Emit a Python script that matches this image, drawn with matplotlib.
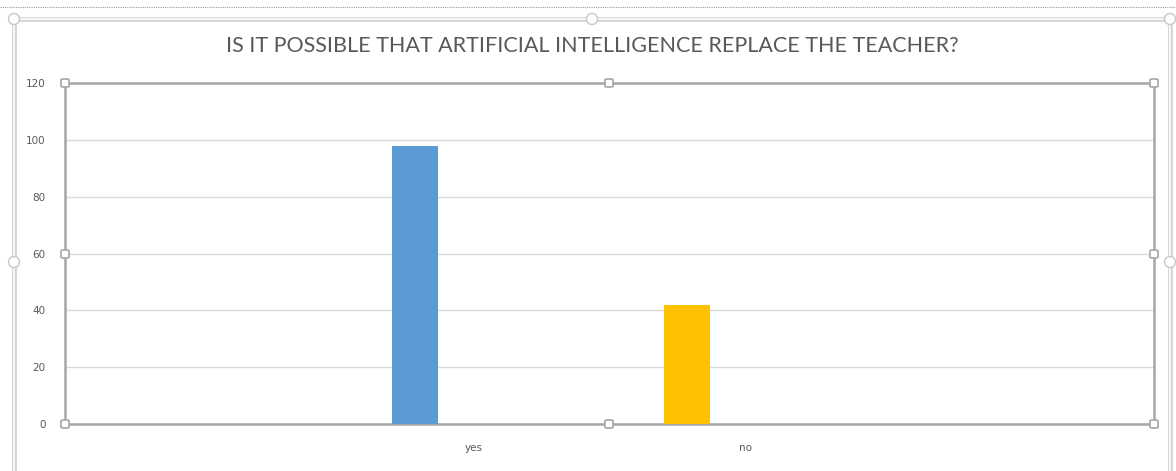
import matplotlib
matplotlib.use("Agg")
import matplotlib.pyplot as plt
from matplotlib.patches import Ellipse, FancyBboxPatch
from matplotlib.lines import Line2D

# Data
categories = ["", "yes", "no", ""]
values = [None, 98, 42, None]
bar_colors = [None, "#5b9bd5", "#ffc000", None]
title = "IS IT POSSIBLE THAT ARTIFICIAL INTELLIGENCE REPLACE THE TEACHER?"
yticks = [0, 20, 40, 60, 80, 100, 120]

W, H = 1176, 471
fig = plt.figure(figsize=(W / 100, H / 100), dpi=100)
fig.patch.set_facecolor("white")

def fx(px):
    return px / W

def fy(py):
    return 1 - py / H

# outer chart frame (selected)
fig.add_artist(Line2D([fx(0), fx(1176)], [fy(7), fy(7)], transform=fig.transFigure,
                      color="#9a9a9a", lw=0.8, ls=(0, (1, 1))))
for (x0, y0, x1, y1) in [(14, 19, 1170, 19), (14, 19, 14, 471), (1170, 19, 1170, 471)]:
    fig.add_artist(Line2D([fx(x0), fx(x1)], [fy(y0), fy(y1)], transform=fig.transFigure,
                          color="#d4d4d4", lw=3.5, solid_capstyle="butt"))
    fig.add_artist(Line2D([fx(x0), fx(x1)], [fy(y0), fy(y1)], transform=fig.transFigure,
                          color="white", lw=1.2, solid_capstyle="butt"))

ax = fig.add_axes([fx(65), fy(424), fx(1154) - fx(65), fy(83) - fy(424)])
ax.set_facecolor("white")

xs = list(range(len(categories)))
offset = -0.215
width = 0.168
for x, v, c in zip(xs, values, bar_colors):
    if v is not None:
        ax.bar(x + offset, v, width=width, color=c, zorder=3)

ax.set_xlim(-0.5, len(categories) - 0.5)
ax.set_ylim(0, 120)
ax.set_yticks(yticks)
ax.set_yticklabels([str(t) for t in yticks])
ax.set_xticks(xs)
ax.set_xticklabels(categories)
ax.tick_params(axis="both", length=0, labelsize=7.5, colors="#595959")
ax.tick_params(axis="y", pad=14)
ax.tick_params(axis="x", pad=14)
ax.yaxis.grid(True, color="#d9d9d9", lw=1.0, zorder=0)
ax.set_axisbelow(True)
for s in ax.spines.values():
    s.set_color("#a6a6a6")
    s.set_linewidth(1.8)

fig.text(fx(592), fy(46), title, fontsize=15.5, color="#595959", family="Lato",
         ha="center", va="center")

# selection handles on plot area
hx = [65, 609, 1154]
hy = [83, 254, 424]
for px in hx:
    for py in hy:
        if px == 609 and py == 254:
            continue
        fig.add_artist(FancyBboxPatch((fx(px) - 4 / W, fy(py) - 4 / H), 8 / W, 8 / H,
                                      boxstyle="round,pad=0,rounding_size=0.002",
                                      transform=fig.transFigure, facecolor="white",
                                      edgecolor="#a6a6a6", lw=1.2, zorder=10))
# handles on outer frame
for (px, py) in [(14, 19), (592, 19), (1170, 19), (14, 262), (1170, 262)]:
    fig.add_artist(Ellipse((fx(px), fy(py)), 11 / W, 11 / H, transform=fig.transFigure,
                           facecolor="white", edgecolor="#c8c8c8", lw=1.0, zorder=10))

fig.savefig("out.png", dpi=100, facecolor="white")
